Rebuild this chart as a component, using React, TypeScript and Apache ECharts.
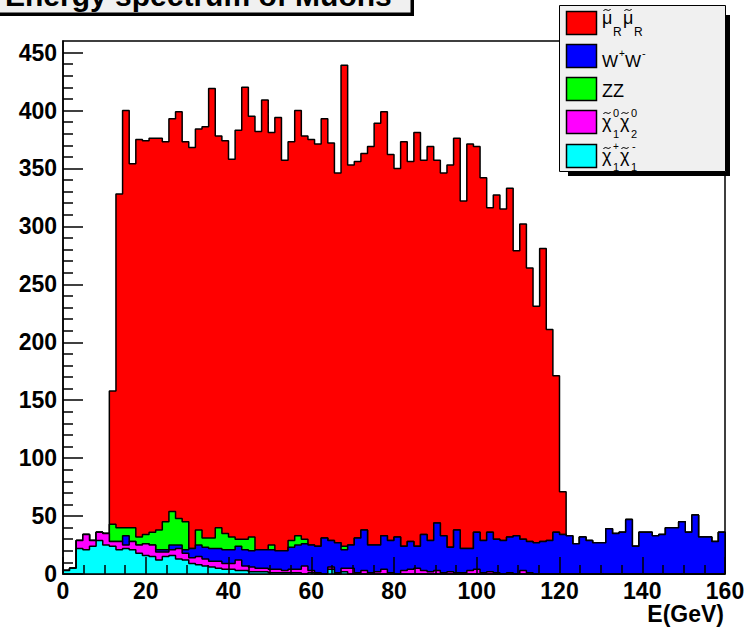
import React, { useEffect, useRef } from "react";
import * as echarts from "echarts";

// ---- Histogram definition: 100 bins from 0 to 160 GeV ----
const NBINS = 100;
const XMIN = 0;
const XMAX = 160;

// Bin contents per process
const smuonRR = [
  0, 0, 0, 0, 0, 0, 0, 115, 288, 360,
  314, 343, 340, 340, 338, 328, 339, 351, 328, 346,
  346, 355, 388, 338, 339, 326, 353, 390, 363, 361,
  388, 356, 374, 337, 344, 367, 348, 350, 347, 362,
  343, 319, 415, 328, 325, 325, 344, 364, 366, 333,
  318, 349, 328, 357, 323, 340, 313, 313, 330, 338,
  300, 349, 333, 313, 280, 297, 286, 301, 246, 272,
  236, 204, 253, 182, 135, 37, 0, 0, 0, 0,
  0, 0, 0, 0, 0, 0, 0, 0, 0, 0,
  0, 0, 0, 0, 0, 0, 0, 0, 0, 0,
];
const wPlusWMinus = [
  0, 0, 0, 0, 0, 0, 0, 0, 0, 8,
  0, 0, 0, 0, 2, 2, 4, 3, 3, 8,
  10, 10, 11, 11, 12, 12, 12, 14, 14, 16,
  16, 17, 16, 17, 19, 21, 19, 22, 23, 31,
  23, 26, 16, 20, 30, 35, 24, 23, 29, 28,
  32, 21, 24, 19, 31, 27, 41, 32, 21, 37,
  21, 19, 32, 28, 34, 29, 29, 31, 33, 27,
  27, 27, 28, 29, 36, 34, 33, 26, 32, 29,
  27, 27, 39, 35, 36, 47, 24, 36, 36, 33,
  34, 40, 40, 45, 36, 51, 32, 32, 28, 36,
];
const zz = [
  0, 0, 0, 0, 0, 0, 0, 15, 12, 7,
  12, 7, 8, 11, 17, 24, 29, 23, 24, 0,
  13, 8, 9, 18, 14, 11, 6, 9, 12, 0,
  0, 4, 0, 0, 6, 8, 4, 0, 0, 0,
  0, 0, 3, 0, 0, 0, 0, 0, 0, 0,
  0, 0, 0, 0, 0, 0, 0, 0, 0, 0,
  0, 0, 0, 0, 0, 0, 0, 0, 0, 0,
  0, 0, 0, 0, 0, 0, 0, 0, 0, 0,
  0, 0, 0, 0, 0, 0, 0, 0, 0, 0,
  0, 0, 0, 0, 0, 0, 0, 0, 0, 0,
];
const neutralino12 = [
  0, 0, 7, 13, 5, 7, 10, 4, 7, 3,
  7, 7, 10, 10, 7, 4, 5, 9, 6, 5,
  7, 6, 5, 6, 5, 5, 9, 4, 4, 3,
  3, 3, 3, 2, 3, 3, 7, 2, 1, 0,
  2, 1, 3, 5, 1, 3, 1, 2, 4, 1,
  0, 3, 4, 5, 3, 2, 3, 1, 2, 1,
  1, 3, 4, 1, 2, 1, 0, 1, 0, 3,
  1, 0, 0, 0, 0, 0, 0, 0, 0, 0,
  0, 0, 0, 0, 0, 0, 0, 0, 0, 0,
  0, 0, 0, 0, 0, 0, 0, 0, 0, 0,
];
const chargino11 = [
  3, 5, 22, 21, 24, 29, 25, 24, 21, 22,
  21, 18, 16, 15, 12, 15, 16, 13, 12, 9,
  8, 7, 6, 5, 4, 4, 3, 3, 2, 2,
  2, 1, 1, 1, 1, 1, 0, 1, 0, 0,
  4, 0, 2, 0, 0, 0, 0, 0, 0, 0,
  0, 0, 0, 0, 0, 0, 0, 0, 0, 0,
  0, 0, 0, 0, 0, 0, 0, 0, 0, 0,
  0, 0, 0, 0, 0, 0, 0, 0, 0, 0,
  0, 0, 0, 0, 0, 0, 0, 0, 0, 0,
  0, 0, 0, 0, 0, 0, 0, 0, 0, 0,
];

const yMajorTicks = [0, 50, 100, 150, 200, 250, 300, 350, 400, 450];
const yMinorTicks = [
  10, 20, 30, 40, 60, 70, 80, 90, 110, 120, 130, 140, 160, 170, 180, 190,
  210, 220, 230, 240, 260, 270, 280, 290, 310, 320, 330, 340, 360, 370, 380, 390,
  410, 420, 430, 440,
];

const TITLE = "Energy spectrum of Muons";
const X_TITLE = "E(GeV)";
const FONT = "'Liberation Sans', Arial, Helvetica, sans-serif";

// stacking order: bottom -> top
const layers = [
  { key: "chargino", color: "#00ffff", values: chargino11 },
  { key: "neutralino", color: "#ff00ff", values: neutralino12 },
  { key: "WW", color: "#0000ff", values: wPlusWMinus },
  { key: "ZZ", color: "#00ff00", values: zz },
  { key: "smuon", color: "#ff0000", values: smuonRR },
];

function buildSeries() {
  const bw = (XMAX - XMIN) / NBINS;
  let cum = new Array(NBINS).fill(0);
  const cums = layers.map((l) => {
    cum = cum.map((c, i) => c + l.values[i]);
    return { ...l, cum };
  });
  // ROOT draws the cumulative histograms from the largest down
  return cums
    .slice()
    .reverse()
    .map((l, k) => {
      const pts: number[][] = [[XMIN, 0]];
      for (let i = 0; i < NBINS; i++) {
        pts.push([XMIN + i * bw, l.cum[i]]);
        pts.push([XMIN + (i + 1) * bw, l.cum[i]]);
      }
      pts.push([XMAX, 0]);
      return {
        type: "line",
        name: l.key,
        data: pts,
        symbol: "none",
        showSymbol: false,
        silent: true,
        z: 2 + k,
        lineStyle: { color: "#000", width: 1.5 },
        areaStyle: { color: l.color, opacity: 1 },
        itemStyle: { color: l.color },
      };
    });
}

function t(x: number, baseline: number, s: string, size: number, weight = "normal", align = "left") {
  return {
    type: "text",
    x,
    y: baseline - 0.35 * size,
    z: 200,
    style: {
      text: s,
      fontSize: size,
      fontFamily: FONT,
      fontWeight: weight,
      fill: "#000",
      align,
      verticalAlign: "middle",
    },
  };
}

// small tilde accent drawn as a curve
function tilde(cx: number, cy: number) {
  return {
    type: "bezierCurve",
    z: 200,
    shape: {
      x1: cx - 3.5, y1: cy + 1,
      cpx1: cx - 1.5, cpy1: cy - 3,
      cpx2: cx + 1.5, cpy2: cy + 3,
      x2: cx + 3.5, y2: cy - 1,
    },
    style: { stroke: "#000", lineWidth: 1, fill: null },
  };
}

function legendGraphics() {
  const boxX = 566;
  const boxTops = [11, 44, 77, 110, 144];
  const colors = ["#ff0000", "#0000ff", "#00ff00", "#ff00ff", "#00ffff"];
  const els: any[] = [
    { type: "rect", shape: { x: 726, y: 15, width: 4, height: 161 }, style: { fill: "#000" }, z: 150 },
    { type: "rect", shape: { x: 568, y: 172, width: 162, height: 4 }, style: { fill: "#000" }, z: 150 },
    {
      type: "rect",
      shape: { x: 559.5, y: 5.5, width: 166, height: 166 },
      style: { fill: "#f0f0f0", stroke: "#000", lineWidth: 1 },
      z: 151,
    },
  ];
  boxTops.forEach((y, i) => {
    els.push({
      type: "rect",
      shape: { x: boxX + 0.5, y: y + 0.5, width: 30, height: 23 },
      style: { fill: colors[i], stroke: "#000", lineWidth: 1.5 },
      z: 160,
    });
  });
  const mu = "\u03bc";
  const ch = "\u03c7";
  // smuon pair
  els.push(
    t(602, 24, mu, 18), tilde(607, 10), t(613, 36, "R", 12),
    t(623, 24, mu, 18), tilde(628, 10), t(634, 36, "R", 12)
  );
  // W+W-
  els.push(t(602, 67, "W", 17), t(619, 57, "+", 10), t(625, 67, "W", 17), t(642, 57, "-", 11));
  // ZZ
  els.push(t(602, 97, "ZZ", 18));
  // neutralinos
  els.push(
    t(602, 128, ch, 18), tilde(607, 113), t(613, 138, "1", 11), t(613, 117, "0", 11),
    t(620, 128, ch, 18), tilde(625, 113), t(631, 138, "2", 11), t(631, 117, "0", 11)
  );
  // charginos
  els.push(
    t(602, 162, ch, 18), tilde(607, 148), t(613, 171, "1", 11), t(613, 150, "+", 10),
    t(620, 162, ch, 18), tilde(625, 148), t(631, 171, "1", 11), t(632, 150, "-", 11)
  );
  return els;
}

function titleGraphics() {
  return [
    { type: "rect", shape: { x: -2, y: -37, width: 416, height: 53 }, style: { fill: "#000" }, z: 150 },
    {
      type: "rect",
      shape: { x: -5, y: -40, width: 416, height: 53 },
      style: { fill: "#f0f0f0", stroke: "#000", lineWidth: 1 },
      z: 151,
    },
    t(5, 6, TITLE, 30, "bold"),
    t(724, 622.5, X_TITLE, 23, "bold", "right"),
  ];
}

export default function App() {
  const ref = useRef<HTMLDivElement>(null);
  useEffect(() => {
    if (!ref.current) return;
    const chart = echarts.init(ref.current, null, { renderer: "svg" });
    const labelStyle = {
      color: "#000",
      fontSize: 23,
      fontWeight: "bold",
      fontFamily: FONT,
      lineHeight: 23,
    };
    chart.setOption({
      animation: false,
      backgroundColor: "#ffffff",
      grid: {
        left: 63,
        right: 24,
        top: 41,
        bottom: 55,
        show: true,
        borderColor: "#000",
        borderWidth: 1.5,
        backgroundColor: "#ffffff",
      },
      xAxis: {
        type: "value",
        min: XMIN,
        max: XMAX,
        interval: 20,
        z: 10,
        axisLine: { show: true, onZero: false, lineStyle: { color: "#000", width: 1.5 } },
        axisTick: { show: true, inside: true, length: 17, lineStyle: { color: "#000", width: 1.5 } },
        minorTick: { show: true, splitNumber: 4, length: 9, lineStyle: { color: "#000", width: 1.5 } },
        splitLine: { show: false },
        minorSplitLine: { show: false },
        axisLabel: { ...labelStyle, margin: 5 },
      },
      yAxis: [
        {
          type: "value",
          min: 0,
          max: 460,
          position: "left",
          z: 10,
          axisLine: { show: true, onZero: false, lineStyle: { color: "#000", width: 1.5 } },
          axisTick: {
            show: true,
            inside: true,
            length: 20,
            customValues: yMajorTicks,
            lineStyle: { color: "#000", width: 1.5 },
          },
          splitLine: { show: false },
          axisLabel: { ...labelStyle, margin: 6, customValues: yMajorTicks },
        },
        {
          type: "value",
          min: 0,
          max: 460,
          position: "left",
          z: 10,
          axisLine: { show: false },
          axisTick: {
            show: true,
            inside: true,
            length: 10,
            customValues: yMinorTicks,
            lineStyle: { color: "#000", width: 1.5 },
          },
          axisLabel: { show: false },
          splitLine: { show: false },
        },
      ],
      series: buildSeries(),
      graphic: [...titleGraphics(), ...legendGraphics()],
    });
    return () => chart.dispose();
  }, []);
  return (
    <div
      ref={ref}
      style={{ position: "fixed", left: 0, top: 0, width: 749, height: 629, background: "#fff" }}
    />
  );
}
